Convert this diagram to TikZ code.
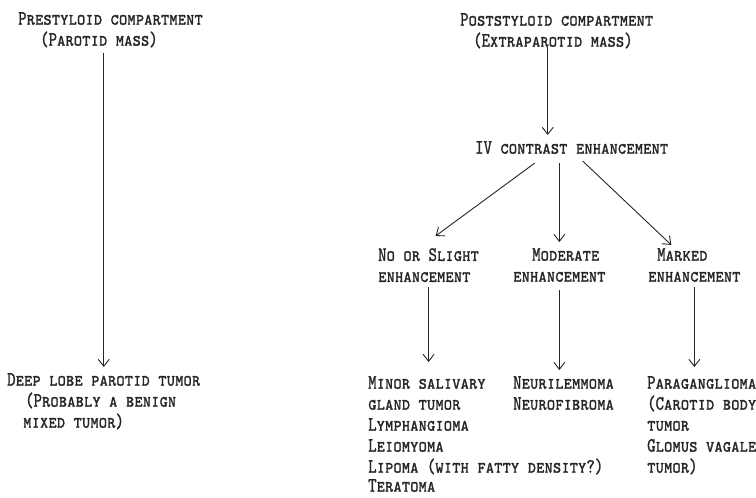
\documentclass[tikz,border=0pt]{standalone}
\usepackage{fontspec}
\usepackage{tikz}
\usetikzlibrary{arrows.meta,calc,positioning}
\newfontfamily\lettering[FakeStretch=0.78,FakeBold=1.2]{lmmonocaps10-regular.otf}
\tikzset{%
	block/.style = {font=\lettering\fontsize{20.5}{21}\selectfont, text=black!85, inner sep=0pt, align=left, anchor=north west},
	arrow/.style = {line width=0.9pt, draw=black!85, shorten <=6pt, shorten >=6pt, -{Straight Barb[length=7pt,width=11pt]}},
}

\begin{document}
\begin{tikzpicture}[x=1pt,y=-1pt]
	\useasboundingbox (0,0) rectangle (756,498);
	
	% prestyloid side (node tops = first baseline - 12)
	\node[block] (pre) at (18,12) {Prestyloid compartment\\\hspace*{22pt}(Parotid mass)};
	\node[block] (deep) at (7,373) {Deep lobe parotid tumor\\\hspace*{18pt}(Probably a benign\\\hspace*{16pt}mixed tumor)};
	\draw[arrow,shorten <=5pt] (deep.north |- pre.south) -- (deep.north);
	
	% poststyloid side
	\node[block] (post) at (460,13) {Poststyloid compartment\\\hspace*{13pt}(Extraparotid mass)};
	\node[block] (iv) at (475,141) {IV contrast enhancement};
	\draw[arrow,shorten <=-2pt] ([xshift=-9pt]post.south) -- ([xshift=-9pt]post.south |- iv.north);
	
	\node[block] (noslight) at (378,248) {No or Slight\\enhancement};
	\node[block] (moderate) at (513,248) {\hspace*{19pt}Moderate\\enhancement};
	\node[block] (marked) at (648,248) {\hspace*{9pt}Marked\\enhancement};
	\draw[arrow,shorten <=0pt,shorten >=0pt] ([xshift=-37pt,yshift=-9pt]iv.south) -- ([xshift=7pt,yshift=12pt]noslight.north);
	\draw[arrow,shorten <=9pt] (moderate.north |- iv.south) -- (moderate.north);
	\draw[arrow,shorten <=0pt,shorten >=0pt] ([xshift=11pt,yshift=-7pt]iv.south) -- ([xshift=-23pt,yshift=3pt]marked.north);
	
	% what is found
	\node[block] (minor) at (368,376) {Minor salivary\\gland tumor\\Lymphangioma\\Leiomyoma\\Lipoma (with fatty density?)\\[-2pt]Teratoma};
	\node[block] (neuri) at (513,376) {Neurilemmoma\\Neurofibroma};
	\node[block] (para) at (647,376) {Paraganglioma\\(Carotid body\\tumor\\Glomus vagale\\tumor)};
	\draw[arrow,shorten <=5pt,shorten >=14pt] (noslight.south) -- (noslight.south |- minor.north);
	\draw[arrow,shorten <=8pt] (moderate.south) -- (moderate.south |- neuri.north);
	\draw[arrow,shorten <=5pt,shorten >=9pt] (marked.south) -- (marked.south |- para.north);
\end{tikzpicture}
\end{document}
